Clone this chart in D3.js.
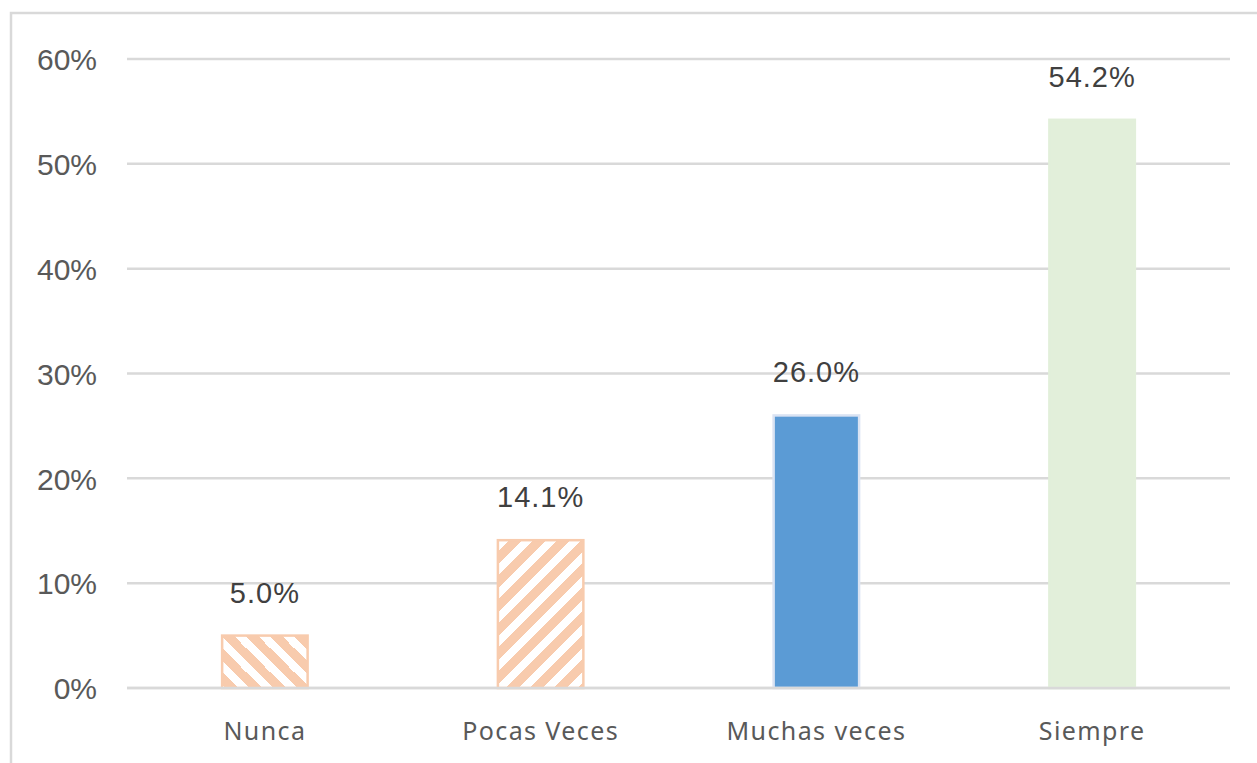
<!DOCTYPE html>
<html><head><meta charset="utf-8">
<script src="https://cdn.jsdelivr.net/npm/d3@7"></script>
<style>body{margin:0;background:#fff}svg{display:block}</style>
</head><body><svg id="c" width="1257" height="763"></svg>
<script>
const categories = ["Nunca","Pocas Veces","Muchas veces","Siempre"];
const values = [5.0, 14.1, 26.0, 54.2];
const valueLabels = ["5.0%","14.1%","26.0%","54.2%"];
const yTicks = [0,10,20,30,40,50,60];

const svg = d3.select("#c");
const m = {left:127, right:1230, top:59, bottom:688};

// chart frame (clipped on right/bottom)
svg.append("rect").attr("x",11).attr("y",13).attr("width",1300).attr("height",800)
  .attr("fill","none").attr("stroke","#d9d9d9").attr("stroke-width",2.5);

const defs = svg.append("defs");
function hatch(id, dir){
  const p = defs.append("pattern").attr("id",id).attr("patternUnits","userSpaceOnUse")
    .attr("width",24).attr("height",24);
  p.append("rect").attr("width",24).attr("height",24).attr("fill","#fff");
  const g = p.append("g").attr("stroke","#F8CBAD").attr("stroke-width",8.5).attr("shape-rendering","crispEdges");
  if(dir==="up"){
    g.append("line").attr("x1",-6).attr("y1",6).attr("x2",6).attr("y2",-6);
    g.append("line").attr("x1",-6).attr("y1",30).attr("x2",30).attr("y2",-6);
    g.append("line").attr("x1",18).attr("y1",30).attr("x2",30).attr("y2",18);
  } else {
    g.append("line").attr("x1",-6).attr("y1",18).attr("x2",6).attr("y2",30);
    g.append("line").attr("x1",-6).attr("y1",-6).attr("x2",30).attr("y2",30);
    g.append("line").attr("x1",18).attr("y1",-6).attr("x2",30).attr("y2",6);
  }
}
hatch("hDown","down");
hatch("hUp","up");

const x = d3.scaleBand().domain(categories).range([m.left,m.right]).paddingInner(0.69).paddingOuter(0.345);
const y = d3.scaleLinear().domain([0,60]).range([m.bottom,m.top]);

// gridlines
svg.append("g").selectAll("line").data(yTicks).join("line")
  .attr("x1",m.left).attr("x2",m.right)
  .attr("y1",d=>y(d)).attr("y2",d=>y(d))
  .attr("stroke","#d9d9d9").attr("stroke-width",2.5);

// y axis labels
const yAxis = d3.axisLeft(y).tickValues(yTicks).tickFormat(d=>d+"%").tickSize(0).tickPadding(0);
const ya = svg.append("g").attr("transform",`translate(${m.left-30},0)`).call(yAxis);
ya.select(".domain").remove();
ya.selectAll("text").attr("font-family","Liberation Sans, Arial, sans-serif").attr("font-size",30)
  .attr("fill","#595959").attr("dy","0.36em");

const fills = ["url(#hDown)","url(#hUp)","#5B9BD5","#E2EFDA"];
const strokes = ["#F8CBAD","#F8CBAD","#DAE3F3","#E2EFDA"];

const data = categories.map((c,i)=>({c, v:values[i], l:valueLabels[i], f:fills[i], s:strokes[i]}));

svg.append("g").selectAll("rect").data(data).join("rect")
  .attr("x",d=>x(d.c)).attr("width",x.bandwidth())
  .attr("y",d=>y(d.v)).attr("height",d=>y(0)-y(d.v))
  .attr("fill",d=>d.f).attr("stroke",d=>d.s).attr("stroke-width",2.5);

// redraw baseline over bars
svg.append("line").attr("x1",m.left).attr("x2",m.right).attr("y1",y(0)).attr("y2",y(0))
  .attr("stroke","#d9d9d9").attr("stroke-width",2.5);

// value labels
svg.append("g").selectAll("text").data(data).join("text")
  .attr("x",d=>x(d.c)+x.bandwidth()/2).attr("y",d=>y(d.v)-33)
  .attr("text-anchor","middle").attr("font-family","Liberation Sans, Arial, sans-serif")
  .attr("font-size",29).attr("letter-spacing",1).attr("fill","#404040").text(d=>d.l);

// category labels
const xAxis = d3.axisBottom(x).tickSize(0).tickPadding(0);
const xa = svg.append("g").attr("transform",`translate(0,${m.bottom+52})`).call(xAxis);
xa.select(".domain").remove();
xa.selectAll("text").attr("font-family","Noto Sans, sans-serif").attr("font-size",25)
  .attr("letter-spacing",1.4).attr("fill","#595959").attr("dy","0");
</script></body></html>
